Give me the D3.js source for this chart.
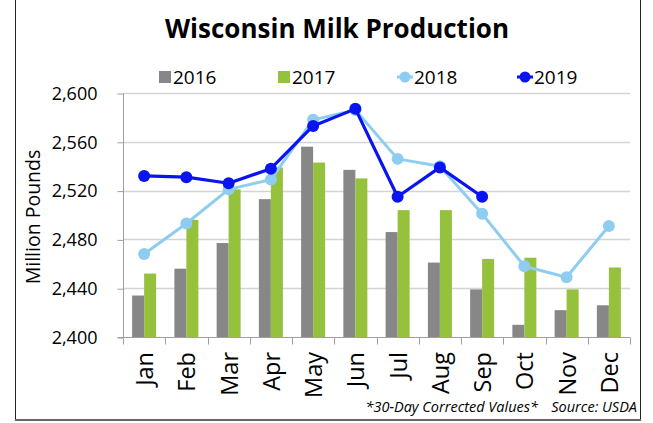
<!DOCTYPE html>
<html>
<head>
<meta charset="utf-8">
<script src="https://cdn.jsdelivr.net/npm/d3@7"></script>
<style>
  body { margin: 0; background: #fff; }
  svg { display: block; font-family: "Open Sans", sans-serif; }
</style>
</head>
<body>
<div id="chart"></div>
<script>
// Wisconsin milk production, million pounds per month
const months = ["Jan", "Feb", "Mar", "Apr", "May", "Jun", "Jul", "Aug", "Sep", "Oct", "Nov", "Dec"];
const barYears = ["2016", "2017"];
const values2016 = [2434, 2456, 2477, 2513, 2556, 2537, 2486, 2461, 2439, 2410, 2422, 2426];
const values2017 = [2452, 2496, 2521, 2539, 2543, 2530, 2504, 2504, 2464, 2465, 2439, 2457];
const values2018 = [2468, 2493, 2521, 2529, 2578, 2586, 2546, 2540, 2501, 2458, 2449, 2491];
const values2019 = [2532, 2531, 2526, 2538, 2573, 2587, 2515, 2539, 2515];
const yTicks = [2400, 2440, 2480, 2520, 2560, 2600];

const colors = {
    "2016": "#878787",
    "2017": "#95c13c",
    "2018": "#8fcdf0",
    "2019": "#0a14f0"
};

const W = 653, H = 423;
const plotLeft = 123, plotRight = 630, plotTop = 93, plotBottom = 337;

const svg = d3.select("#chart").append("svg")
    .attr("width", W)
    .attr("height", H);

// frame
svg.append("line").attr("x1", 15.5).attr("x2", 15.5).attr("y1", 0).attr("y2", 419)
    .attr("stroke", "#222").attr("stroke-width", 1);
svg.append("line").attr("x1", 640.5).attr("x2", 640.5).attr("y1", 0).attr("y2", 419)
    .attr("stroke", "#222").attr("stroke-width", 1);
svg.append("line").attr("x1", 15).attr("x2", 641).attr("y1", 420).attr("y2", 420)
    .attr("stroke", "#666").attr("stroke-width", 2);

const x = d3.scaleBand(months, [plotLeft, plotRight]);
const xInner = d3.scaleBand(barYears, [0, 24]);
const y = d3.scaleLinear([2400, 2600], [plotBottom, plotTop]);

// gridlines
svg.append("g")
    .selectAll("line")
    .data(yTicks.slice(1))
    .join("line")
    .attr("x1", plotLeft).attr("x2", plotRight)
    .attr("y1", d => Math.round(y(d)) + 0.5).attr("y2", d => Math.round(y(d)) + 0.5)
    .attr("stroke", "#d4d4d4").attr("stroke-width", 1.3);

// y axis
const yAxis = svg.append("g")
    .attr("transform", `translate(${plotLeft + 0.5}, 0.5)`)
    .call(d3.axisLeft(y).tickValues(yTicks).tickFormat(d3.format(",")).tickSize(6).tickPadding(20));
yAxis.select(".domain").attr("stroke", "#a0a0a0").attr("d", `M-6,${plotBottom}H0V${plotTop}`);
yAxis.selectAll(".tick line").attr("stroke", "#a0a0a0");
yAxis.selectAll(".tick text").attr("font-size", 18).attr("fill", "#000")
    .attr("font-family", "'Open Sans', sans-serif");

// bars
const barData = months.map((m, i) => ({ month: m, vals: [
    { year: "2016", v: values2016[i] },
    { year: "2017", v: values2017[i] }
] }));

svg.append("g")
    .selectAll("g")
    .data(barData)
    .join("g")
    .attr("transform", d => `translate(${x(d.month) + x.bandwidth() / 2 - 12}, 0)`)
    .selectAll("rect")
    .data(d => d.vals)
    .join("rect")
    .attr("x", d => xInner(d.year))
    .attr("width", xInner.bandwidth())
    .attr("y", d => y(d.v))
    .attr("height", d => y(2400) - y(d.v))
    .attr("fill", d => colors[d.year]);

// x axis
const xAxisLine = svg.append("g")
    .attr("transform", `translate(0, ${plotBottom + 0.5})`);
xAxisLine.append("line").attr("x1", plotLeft).attr("x2", plotRight)
    .attr("stroke", "#a0a0a0");
xAxisLine.selectAll(".tk")
    .data(months.concat(["end"]))
    .join("line")
    .attr("class", "tk")
    .attr("x1", (d, i) => Math.round(plotLeft + i * x.bandwidth()) + 0.5)
    .attr("x2", (d, i) => Math.round(plotLeft + i * x.bandwidth()) + 0.5)
    .attr("y1", 0).attr("y2", 7)
    .attr("stroke", "#a0a0a0");

svg.append("g")
    .selectAll("text")
    .data(months)
    .join("text")
    .attr("transform", d => `translate(${x(d) + x.bandwidth() / 2 + 9}, 352) rotate(-90)`)
    .attr("text-anchor", "end")
    .attr("font-size", 23.5)
    .text(d => d);

// lines
const line = d3.line()
    .x((d, i) => x(months[i]) + x.bandwidth() / 2)
    .y(d => y(d));

function drawSeries(vals, color, width, r) {
    const g = svg.append("g");
    g.append("path")
        .datum(vals)
        .attr("d", line)
        .attr("fill", "none")
        .attr("stroke", color)
        .attr("stroke-width", width)
        .attr("stroke-linejoin", "round");
    g.selectAll("circle")
        .data(vals)
        .join("circle")
        .attr("cx", (d, i) => x(months[i]) + x.bandwidth() / 2)
        .attr("cy", d => y(d))
        .attr("r", r)
        .attr("fill", color);
}
drawSeries(values2018, colors["2018"], 3, 6);
drawSeries(values2019, colors["2019"], 3.2, 6);

// title
svg.append("text")
    .attr("x", 337).attr("y", 38)
    .attr("text-anchor", "middle")
    .attr("font-size", 26)
    .attr("font-weight", "bold")
    .text("Wisconsin Milk Production");

// y axis title
svg.append("text")
    .attr("transform", "translate(40, 217) rotate(-90)")
    .attr("text-anchor", "middle")
    .attr("font-size", 19.5)
    .text("Million Pounds");

// legend
const legendItems = [
    { year: "2016", x: 159, type: "bar" },
    { year: "2017", x: 278, type: "bar" },
    { year: "2018", x: 397, type: "line" },
    { year: "2019", x: 517, type: "line" }
];
const legend = svg.append("g");
legendItems.forEach(item => {
    const g = legend.append("g").attr("transform", `translate(${item.x}, 0)`);
    if (item.type === "bar") {
        g.append("rect").attr("x", 0).attr("y", 71).attr("width", 12).attr("height", 12)
            .attr("fill", colors[item.year]);
    } else {
        g.append("line").attr("x1", 0).attr("x2", 16).attr("y1", 77).attr("y2", 77)
            .attr("stroke", colors[item.year]).attr("stroke-width", 3);
        g.append("circle").attr("cx", 8).attr("cy", 77).attr("r", 5.5)
            .attr("fill", colors[item.year]);
    }
    g.append("text")
        .attr("x", item.type === "bar" ? 14 : 17)
        .attr("y", 84)
        .attr("font-size", 19)
        .text(item.year);
});

// footnote
svg.append("text")
    .attr("x", 538).attr("y", 412)
    .attr("text-anchor", "end")
    .attr("font-size", 14.5)
    .attr("font-style", "italic")
    .text("*30-Day Corrected Values*");
svg.append("text")
    .attr("x", 637).attr("y", 412)
    .attr("text-anchor", "end")
    .attr("font-size", 14.5)
    .attr("font-style", "italic")
    .text("Source: USDA");
</script>
</body>
</html>
